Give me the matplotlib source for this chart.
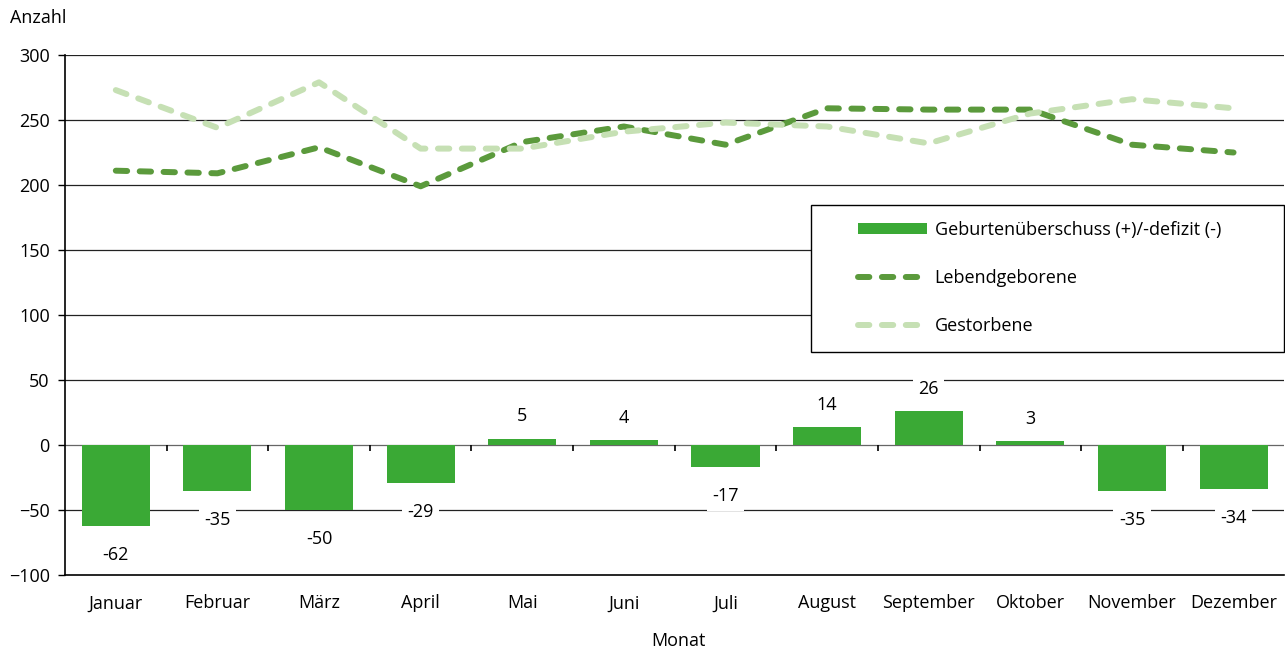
import numpy as np
import matplotlib.pyplot as plt
from matplotlib.patches import Patch, Rectangle
from matplotlib.lines import Line2D

plt.rcParams['font.family'] = ['Open Sans', 'DejaVu Sans']

monate = ["Januar", "Februar", "März", "April", "Mai", "Juni", "Juli",
          "August", "September", "Oktober", "November", "Dezember"]
lebendgeborene = [211, 209, 229, 199, 233, 245, 231, 259, 258, 258, 231, 225]
gestorbene = [273, 244, 279, 228, 228, 241, 248, 245, 232, 255, 266, 259]
saldo = [-62, -35, -50, -29, 5, 4, -17, 14, 26, 3, -35, -34]

c_bar = "#3aa935"
c_leb = "#5b9a3c"
c_ges = "#c6e0b4"
dash = (1.9, 2.1)

W, H = 1285, 654
fig = plt.figure(figsize=(W / 100, H / 100), dpi=100)
ax = fig.add_axes([65 / W, 1 - 575 / H, 1 - 65 / W - 0.0005, 520 / H])

x = np.arange(len(monate))
ax.set_xlim(-0.5, len(monate) - 0.5)
ax.set_ylim(-100, 300)
ax.set_yticks(np.arange(-100, 301, 50))

# gridlines
for yv in np.arange(-50, 301, 50):
    col = "#666666" if yv == 0 else "#222222"
    ax.axhline(yv, color=col, lw=0.9, zorder=0)

ax.bar(x, saldo, width=0.67, color=c_bar, zorder=2)
ax.plot(x, lebendgeborene, color=c_leb, lw=4.3, dashes=dash,
        dash_capstyle="round", zorder=3)
ax.plot(x, gestorbene, color=c_ges, lw=4.3, dashes=dash,
        dash_capstyle="round", zorder=3)

# value labels
for xi, v in zip(x, saldo):
    off = -21 if v < 0 else 16
    ax.annotate(str(v), (xi, v), xytext=(0, off), textcoords="offset points",
                ha="center", va="center", fontsize=13,
                bbox=dict(boxstyle="square,pad=0.3", fc="white", ec="none"),
                zorder=4)

for s in ["top", "right"]:
    ax.spines[s].set_visible(False)
ax.spines["left"].set_linewidth(1.2)
ax.spines["bottom"].set_linewidth(1.2)

ax.set_xticks(x)
ax.set_xticklabels(monate, fontsize=13)
ax.tick_params(axis="x", length=0, pad=14)
ax.tick_params(axis="y", direction="out", length=5, width=1, labelsize=13, pad=6)

# tick marks on zero line between categories
sec = ax.secondary_xaxis(0.25)
sec.set_xticks(np.arange(0.5, len(monate) - 0.5, 1))
sec.set_xticklabels([])
sec.tick_params(direction="out", length=4, width=1.2, color="black")
sec.spines["bottom"].set_visible(False)

fig.text(10 / W, 1 - 18 / H, "Anzahl", fontsize=13, va="center", ha="left")
fig.text(678 / W, 1 - 641 / H, "Monat", fontsize=13, va="center", ha="center")

# legend frame
fig.patches.append(Rectangle((811 / W, 1 - 352 / H), 473 / W, 147 / H,
                             transform=fig.transFigure, fill=True, fc="white",
                             ec="black", lw=1.0, zorder=5))

handles = [
    Patch(facecolor=c_bar, edgecolor="none"),
    Line2D([0], [0], color=c_leb, lw=4.3, dashes=dash, dash_capstyle="round"),
    Line2D([0], [0], color=c_ges, lw=4.3, dashes=dash, dash_capstyle="round"),
]
labels = ["Geburtenüberschuss (+)/-defizit (-)", "Lebendgeborene", "Gestorbene"]
leg = fig.legend(handles, labels, loc="center left",
                 bbox_to_anchor=(858 / W, 1 - 278 / H),
                 fontsize=13, frameon=False,
                 handlelength=3.8, handleheight=0.55, labelspacing=1.65,
                 borderpad=0, handletextpad=0.45, borderaxespad=0)
leg.set_zorder(6)

fig.savefig("out.png", dpi=100)
